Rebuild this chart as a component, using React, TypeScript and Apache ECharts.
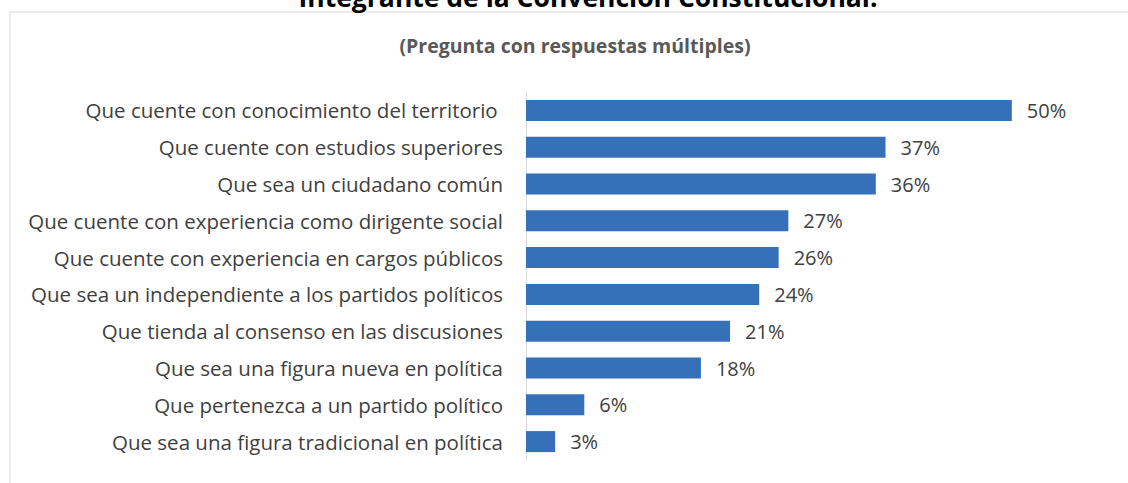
import React, { useEffect, useRef } from "react";
import * as echarts from "echarts";

const titleText = "Integrante de la Convención Constitucional.";
const subtitleText = "(Pregunta con respuestas múltiples)";

const categories = [
  "Que cuente con conocimiento del territorio ",
  "Que cuente con estudios superiores",
  "Que sea un ciudadano común",
  "Que cuente con experiencia como dirigente social",
  "Que cuente con experiencia en cargos públicos",
  "Que sea un independiente a los partidos políticos",
  "Que tienda al consenso en las discusiones",
  "Que sea una figura nueva en política",
  "Que pertenezca a un partido político",
  "Que sea una figura tradicional en política",
];

const values = [50, 37, 36, 27, 26, 24, 21, 18, 6, 3];

const FONT = "'Open Sans'";

export default function App() {
  const ref = useRef<HTMLDivElement>(null);
  useEffect(() => {
    if (!ref.current) return;
    const chart = echarts.init(ref.current, undefined, { renderer: "svg" });
    chart.setOption({
      animation: false,
      backgroundColor: "#ffffff",
      graphic: [
        {
          type: "rect",
          shape: { x: 10, y: 12, width: 1200, height: 600 },
          style: { fill: "none", stroke: "#d9d9d9", lineWidth: 1 },
          silent: true,
        },
        {
          type: "text",
          x: 588,
          y: -3,
          style: {
            text: titleText,
            fill: "#000000",
            font: `bold 26.5px ${FONT}`,
            align: "center",
            verticalAlign: "middle",
          },
        },
        {
          type: "text",
          x: 575,
          y: 45,
          style: {
            text: subtitleText,
            fill: "#595959",
            font: `bold 19.5px ${FONT}`,
            align: "center",
            verticalAlign: "middle",
          },
        },
      ],
      grid: { left: 526, right: 19, top: 92, bottom: 23, containLabel: false },
      xAxis: {
        type: "value",
        min: 0,
        max: 60,
        show: false,
        splitLine: { show: false },
      },
      yAxis: {
        type: "category",
        data: categories,
        inverse: true,
        axisLine: { show: true, lineStyle: { color: "#d9d9d9", width: 1 } },
        axisTick: { show: false },
        axisLabel: {
          color: "#404040",
          fontFamily: FONT,
          fontSize: 20.5,
          margin: 23,
        },
      },
      series: [
        {
          type: "bar",
          data: values,
          barWidth: 21,
          itemStyle: { color: "#3570b8" },
          label: {
            show: true,
            position: "right",
            distance: 15,
            formatter: "{c}%",
            color: "#404040",
            fontFamily: FONT,
            fontSize: 20,
          },
        },
      ],
    });
    return () => chart.dispose();
  }, []);
  return (
    <div
      ref={ref}
      style={{ position: "fixed", left: 0, top: 0, width: 1128, height: 483 }}
    />
  );
}
